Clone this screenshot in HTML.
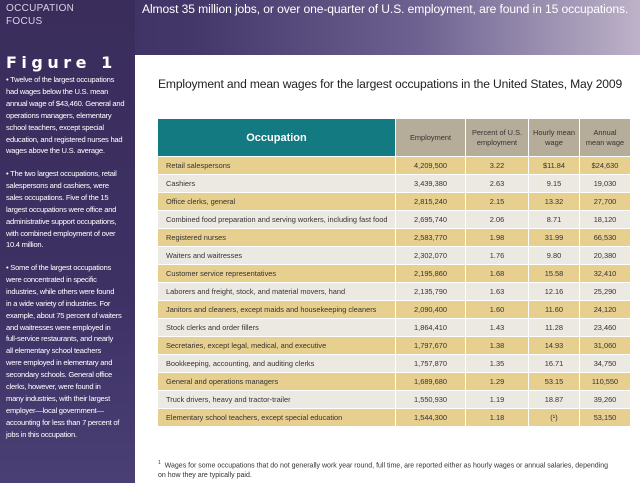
<!DOCTYPE html>
<html><head><meta charset="utf-8"><style>
*{margin:0;padding:0;box-sizing:border-box}
body{width:640px;height:483px;overflow:hidden;position:relative;font-family:"Liberation Sans",sans-serif;
background:linear-gradient(90deg,#3a2d5c 0%,#43376a 30%,#6c6190 65%,#bdb2c8 100%)}
#side{position:absolute;left:0;top:0;width:135px;height:483px;background:linear-gradient(180deg,#3a2d5c 0%,#3d3164 60%,#4a3f74 100%)}
#of{position:absolute;left:6px;top:2px;color:#d8d4e4;font-size:10px;line-height:13px;letter-spacing:0.3px}
#title{position:absolute;left:142px;top:2px;color:#fff;font-size:12.1px;white-space:nowrap;letter-spacing:-0.1px}
#fig{position:absolute;left:6px;top:53px;color:#fff;font-size:16px;font-weight:bold;letter-spacing:4.5px;font-family:"DejaVu Sans",sans-serif}
.b{position:absolute;left:6px;color:#fff;font-size:7.6px;line-height:11.9px;white-space:nowrap;letter-spacing:-0.25px}
#panel{position:absolute;left:135px;top:55px;width:505px;height:428px;background:#fff}
#ct{position:absolute;left:158px;top:77px;font-size:12.1px;color:#222;white-space:nowrap;letter-spacing:-0.15px}
table{position:absolute;left:157px;top:118px;width:473px;border-collapse:collapse;font-size:7.4px;color:#333;table-layout:fixed}
td,th{border:1px solid #fff;padding:0;overflow:hidden;white-space:nowrap}
th{background:#b6ac9a;font-weight:normal;height:38px;line-height:10px;color:#333;white-space:normal}
th.o{background:#137a82;color:#fff;font-size:11px;font-weight:bold}
td{height:18px;text-align:center}
td.n{text-align:left;padding-left:8px}
tr.g td{background:#e6cf8f}
tr.w td{background:#ece9e2}
#fn{position:absolute;left:158px;top:458px;font-size:7px;color:#333;line-height:10px;white-space:nowrap}
</style></head><body>
<div id="side"></div>
<div id="of">OCCUPATION<br>FOCUS</div>
<div id="title">Almost 35 million jobs, or over one-quarter of U.S. employment, are found in 15 occupations.</div>
<div id="fig">Figure 1</div>
<div class="b" style="top:74px">• Twelve of the largest occupations<br>had wages below the U.S. mean<br>annual wage of $43,460. General and<br>operations managers, elementary<br>school teachers, except special<br>education, and registered nurses had<br>wages above the U.S. average.</div>
<div class="b" style="top:168px">• The two largest occupations, retail<br>salespersons and cashiers, were<br>sales occupations. Five of the 15<br>largest occupations were office and<br>administrative support occupations,<br>with combined employment of over<br>10.4 million.</div>
<div class="b" style="top:262px">• Some of the largest occupations<br>were concentrated in specific<br>industries, while others were found<br>in a wide variety of industries. For<br>example, about 75 percent of waiters<br>and waitresses were employed in<br>full-service restaurants, and nearly<br>all elementary school teachers<br>were employed in elementary and<br>secondary schools. General office<br>clerks, however, were found in<br>many industries, with their largest<br>employer—local government—<br>accounting for less than 7 percent of<br>jobs in this occupation.</div>
<div id="panel"></div>
<div id="ct">Employment and mean wages for the largest occupations in the United States, May 2009</div>
<table>
<colgroup><col style="width:238px"><col style="width:70px"><col style="width:63px"><col style="width:51px"><col style="width:51px"></colgroup>
<tr><th class="o">Occupation</th><th>Employment</th><th>Percent of U.S.<br>employment</th><th>Hourly mean<br>wage</th><th>Annual<br>mean wage</th></tr>
<tr class="g"><td class="n">Retail salespersons</td><td>4,209,500</td><td>3.22</td><td>$11.84</td><td>$24,630</td></tr>
<tr class="w"><td class="n">Cashiers</td><td>3,439,380</td><td>2.63</td><td>9.15</td><td>19,030</td></tr>
<tr class="g"><td class="n">Office clerks, general</td><td>2,815,240</td><td>2.15</td><td>13.32</td><td>27,700</td></tr>
<tr class="w"><td class="n">Combined food preparation and serving workers, including fast food</td><td>2,695,740</td><td>2.06</td><td>8.71</td><td>18,120</td></tr>
<tr class="g"><td class="n">Registered nurses</td><td>2,583,770</td><td>1.98</td><td>31.99</td><td>66,530</td></tr>
<tr class="w"><td class="n">Waiters and waitresses</td><td>2,302,070</td><td>1.76</td><td>9.80</td><td>20,380</td></tr>
<tr class="g"><td class="n">Customer service representatives</td><td>2,195,860</td><td>1.68</td><td>15.58</td><td>32,410</td></tr>
<tr class="w"><td class="n">Laborers and freight, stock, and material movers, hand</td><td>2,135,790</td><td>1.63</td><td>12.16</td><td>25,290</td></tr>
<tr class="g"><td class="n">Janitors and cleaners, except maids and housekeeping cleaners</td><td>2,090,400</td><td>1.60</td><td>11.60</td><td>24,120</td></tr>
<tr class="w"><td class="n">Stock clerks and order fillers</td><td>1,864,410</td><td>1.43</td><td>11.28</td><td>23,460</td></tr>
<tr class="g"><td class="n">Secretaries, except legal, medical, and executive</td><td>1,797,670</td><td>1.38</td><td>14.93</td><td>31,060</td></tr>
<tr class="w"><td class="n">Bookkeeping, accounting, and auditing clerks</td><td>1,757,870</td><td>1.35</td><td>16.71</td><td>34,750</td></tr>
<tr class="g"><td class="n">General and operations managers</td><td>1,689,680</td><td>1.29</td><td>53.15</td><td>110,550</td></tr>
<tr class="w"><td class="n">Truck drivers, heavy and tractor-trailer</td><td>1,550,930</td><td>1.19</td><td>18.87</td><td>39,260</td></tr>
<tr class="g"><td class="n">Elementary school teachers, except special education</td><td>1,544,300</td><td>1.18</td><td>(¹)</td><td>53,150</td></tr>
</table>
<div id="fn"><sup style="font-size:5px">1</sup>&nbsp; Wages for some occupations that do not generally work year round, full time, are reported either as hourly wages or annual salaries, depending<br>on how they are typically paid.</div>
</body></html>
